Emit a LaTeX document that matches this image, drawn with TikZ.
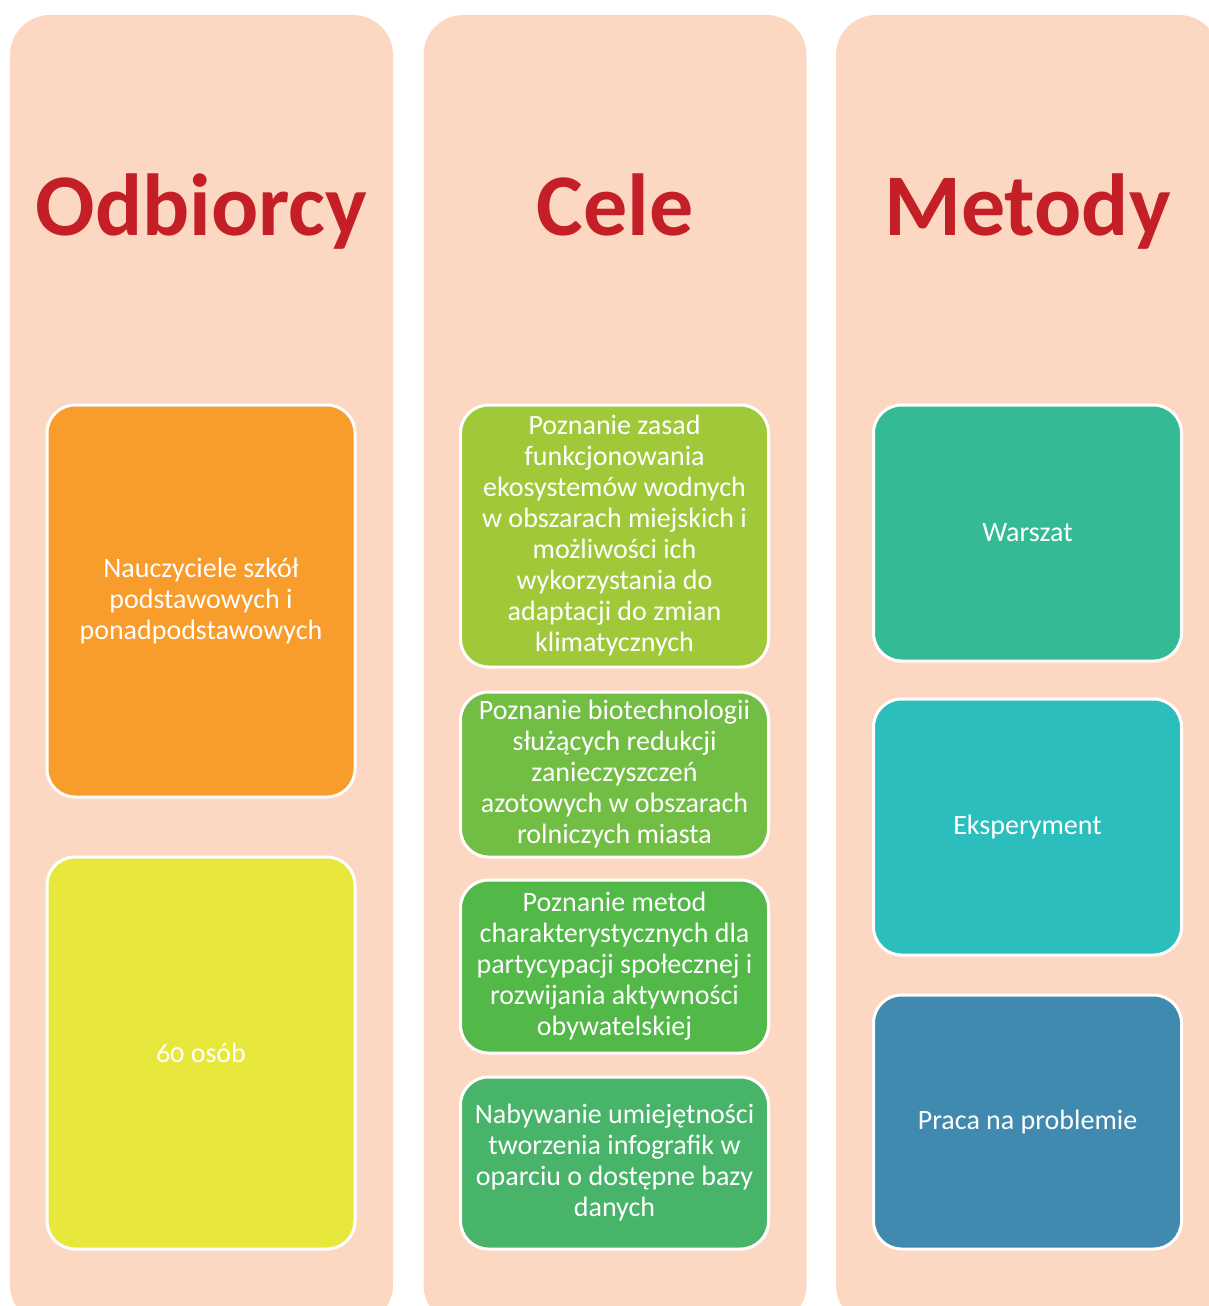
\documentclass[tikz,border=0pt]{standalone}
\usepackage{fontspec}
\setmainfont{Carlito}
\definecolor{colbg}{HTML}{FCD8C3}
\definecolor{ttl}{HTML}{C41F26}
\definecolor{cA}{HTML}{F89C2C}
\definecolor{cB}{HTML}{E8E73C}
\definecolor{cC}{HTML}{A0C93A}
\definecolor{cD}{HTML}{72BE44}
\definecolor{cE}{HTML}{52B848}
\definecolor{cF}{HTML}{48B46A}
\definecolor{cG}{HTML}{34BB95}
\definecolor{cH}{HTML}{2CBDBD}
\definecolor{cI}{HTML}{408AB0}
\tikzset{
  column/.style={fill=colbg, draw=none, rounded corners=40pt, minimum width=383pt, minimum height=1310pt, inner sep=0pt},
  titletext/.style={text=ttl, font=\fontsize{88}{100}\selectfont\bfseries, anchor=base, inner sep=0pt},
  itembox/.style={draw=white, line width=3pt, rounded corners=28pt, minimum width=308pt, inner sep=0pt, text=white, align=center, font=\fontsize{28}{31}\selectfont},
}
\begin{document}
\begin{tikzpicture}[x=1pt,y=-1pt]
\useasboundingbox (0,0) rectangle (1209,1306);
\clip (0,0) rectangle (1209,1306);
\node[column] (c1) at (201.5,670) {};
\node[column] (c2) at (615,670) {};
\node[column] (c3) at (1027.5,670) {};
\node[titletext] (t1) at (201.5,235) {Odbiorcy};
\node[titletext] (t2) at (615,235) {Cele};
\node[titletext] (t3) at (1027.5,235) {Metody};
\node[itembox, fill=cA, minimum height=392pt] (a1) at (201,601) {Nauczyciele szkół\\podstawowych i\\ponadpodstawowych};
\node[itembox, fill=cB, minimum height=392pt] (a2) at (201,1053) {{\addfontfeature{Numbers=OldStyle}60} osób};
\node[itembox, fill=cC, minimum height=262pt] (b1) at (614.5,536) {Poznanie zasad\\funkcjonowania\\ekosystemów wodnych\\w obszarach miejskich i\\możliwości ich\\wykorzystania do\\adaptacji do zmian\\klimatycznych};
\node[itembox, fill=cD, minimum height=165pt] (b2) at (614.5,774.5) {Poznanie biotechnologii\\służących redukcji\\zanieczyszczeń\\azotowych w obszarach\\rolniczych miasta};
\node[itembox, fill=cE, minimum height=173pt] (b3) at (614.5,966.5) {Poznanie metod\\charakterystycznych dla\\partycypacji społecznej i\\rozwijania aktywności\\obywatelskiej};
\node[itembox, fill=cF, minimum height=172pt] (b4) at (614.5,1163) {Nabywanie umiejętności\\tworzenia infografik w\\oparciu o dostępne bazy\\danych};
\node[itembox, fill=cG, minimum height=256pt] (m1) at (1027.5,533) {Warszat};
\node[itembox, fill=cH, minimum height=256pt] (m2) at (1027.5,827) {Eksperyment};
\node[itembox, fill=cI, minimum height=254pt] (m3) at (1027.5,1122) {Praca na problemie};
\end{tikzpicture}
\end{document}
